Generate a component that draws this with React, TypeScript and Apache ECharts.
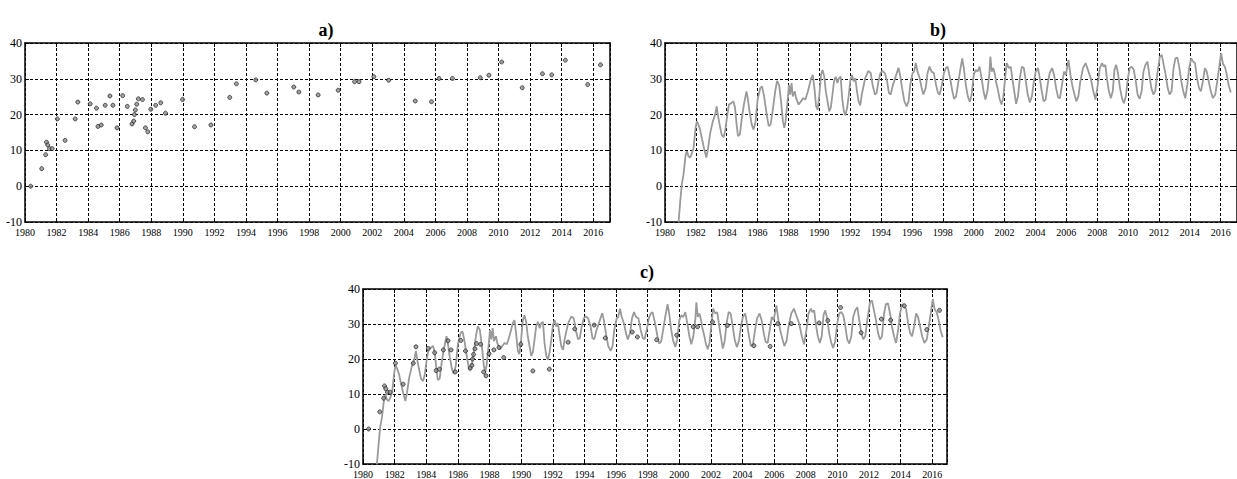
import React, { useEffect, useRef } from "react";
import * as echarts from "echarts";

// Observations (scatter), panels a) and c)
const obsYears = [
  1980.36, 1981.06, 1981.31, 1981.36, 1981.44, 1981.55, 1981.72, 1982.05, 1982.54, 1983.18,
  1983.35, 1984.13, 1984.53, 1984.62, 1984.83, 1985.08, 1985.38, 1985.57, 1985.83, 1986.19,
  1986.48, 1986.78, 1986.89, 1986.93, 1986.99, 1987.08, 1987.18, 1987.44, 1987.63, 1987.78,
  1987.97, 1988.28, 1988.6, 1988.9, 1989.98, 1990.74, 1991.78, 1992.97, 1993.39, 1994.62,
  1995.32, 1997.03, 1997.35, 1998.57, 1999.84, 2000.88, 2001.16, 2002.1, 2003.04, 2004.72,
  2005.75, 2006.23, 2007.08, 2008.84, 2009.39, 2010.2, 2011.5, 2012.78, 2013.37, 2014.23,
  2015.65, 2016.46,
];
const obsValues = [
  0.0, 4.9, 8.8, 12.3, 11.5, 10.5, 10.5, 18.8, 12.8, 18.8,
  23.5, 23.0, 21.8, 16.7, 17.1, 22.6, 25.2, 22.6, 16.3, 25.3,
  22.3, 17.4, 18.2, 20.0, 21.3, 22.9, 24.4, 24.2, 16.3, 15.2,
  21.5, 22.6, 23.3, 20.4, 24.2, 16.6, 17.1, 24.8, 28.6, 29.7,
  26.0, 27.7, 26.3, 25.5, 26.8, 29.2, 29.2, 30.6, 29.6, 23.8,
  23.6, 30.1, 30.1, 30.3, 31.0, 34.7, 27.5, 31.4, 31.1, 35.2,
  28.4, 33.9,
];

// Simulated series (line), panels b) and c)
const simYears = [
  1980.88, 1980.99, 1981.09, 1981.2, 1981.34, 1981.43, 1981.51, 1981.62, 1981.72, 1981.85,
  1981.98, 1982.06, 1982.15, 1982.27, 1982.4, 1982.57, 1982.68, 1982.78, 1982.93, 1983.1,
  1983.25, 1983.35, 1983.42, 1983.54, 1983.67, 1983.8, 1983.9, 1984.01, 1984.14, 1984.3,
  1984.43, 1984.54, 1984.64, 1984.73, 1984.85, 1984.98, 1985.11, 1985.28, 1985.36, 1985.49,
  1985.62, 1985.74, 1985.87, 1986.0, 1986.17, 1986.29, 1986.42, 1986.59, 1986.72, 1986.84,
  1986.97, 1987.14, 1987.26, 1987.39, 1987.52, 1987.64, 1987.73, 1987.81, 1987.94, 1988.03,
  1988.11, 1988.2, 1988.28, 1988.41, 1988.49, 1988.66, 1988.81, 1988.96, 1989.1, 1989.26,
  1989.47, 1989.58, 1989.68, 1989.79, 1989.89, 1990.0, 1990.11, 1990.21, 1990.32, 1990.42,
  1990.53, 1990.64, 1990.74, 1990.85, 1990.95, 1991.06, 1991.17, 1991.27, 1991.38, 1991.48,
  1991.59, 1991.69, 1991.8, 1991.91, 1992.01, 1992.12, 1992.22, 1992.33, 1992.44, 1992.54,
  1992.65, 1992.75, 1992.97, 1993.18, 1993.33, 1993.45, 1993.6, 1993.71, 1993.83, 1993.96,
  1994.09, 1994.24, 1994.39, 1994.51, 1994.62, 1994.77, 1994.98, 1995.13, 1995.23, 1995.36,
  1995.51, 1995.66, 1995.78, 1995.89, 1996.04, 1996.14, 1996.25, 1996.36, 1996.5, 1996.63,
  1996.74, 1996.89, 1997.01, 1997.14, 1997.27, 1997.42, 1997.56, 1997.69, 1997.8, 1997.94,
  1998.07, 1998.2, 1998.31, 1998.47, 1998.62, 1998.73, 1998.86, 1998.98, 1999.11, 1999.26,
  1999.36, 1999.49, 1999.62, 1999.75, 1999.87, 2000.0, 2000.13, 2000.25, 2000.38, 2000.51,
  2000.64, 2000.76, 2000.89, 2001.02, 2001.08, 2001.17, 2001.27, 2001.38, 2001.44, 2001.59,
  2001.69, 2001.8, 2001.91, 2002.04, 2002.14, 2002.28, 2002.4, 2002.53, 2002.66, 2002.75,
  2002.87, 2002.99, 2003.12, 2003.25, 2003.38, 2003.5, 2003.64, 2003.77, 2003.9, 2004.02,
  2004.17, 2004.28, 2004.41, 2004.53, 2004.66, 2004.79, 2004.92, 2005.08, 2005.21, 2005.34,
  2005.47, 2005.59, 2005.72, 2005.85, 2005.97, 2006.14, 2006.27, 2006.4, 2006.53, 2006.65,
  2006.78, 2006.91, 2007.08, 2007.25, 2007.4, 2007.58, 2007.75, 2007.89, 2008.04, 2008.17,
  2008.32, 2008.42, 2008.53, 2008.63, 2008.76, 2008.89, 2009.01, 2009.12, 2009.23, 2009.35,
  2009.48, 2009.61, 2009.73, 2009.86, 2009.99, 2010.11, 2010.24, 2010.37, 2010.49, 2010.62,
  2010.75, 2010.88, 2011.0, 2011.13, 2011.26, 2011.38, 2011.51, 2011.64, 2011.76, 2011.89,
  2012.06, 2012.19, 2012.31, 2012.44, 2012.57, 2012.69, 2012.82, 2012.95, 2013.07, 2013.2,
  2013.33, 2013.45, 2013.58, 2013.71, 2013.84, 2013.96, 2014.09, 2014.22, 2014.34, 2014.47,
  2014.6, 2014.72, 2014.85, 2014.98, 2015.1, 2015.23, 2015.36, 2015.5, 2015.65, 2015.78,
  2015.9, 2016.03, 2016.15, 2016.29, 2016.41, 2016.52, 2016.66,
];
const simValues = [
  -10, -4.1, 0.6, 3.3, 8.9, 9.8, 8.4, 8.0, 8.9, 10.7,
  16.3, 18.1, 17.4, 15.8, 13.1, 9.8, 8.0, 10.3, 14.9, 18.1,
  20.0, 22.3, 20.0, 17.2, 14.4, 13.7, 15.4, 19.1, 22.8, 23.2,
  23.7, 21.9, 17.2, 14.0, 14.4, 19.1, 22.8, 26.5, 24.6, 20.5,
  17.2, 15.8, 18.1, 24.2, 27.4, 27.9, 25.1, 20.0, 16.8, 17.2,
  20.9, 26.5, 29.4, 28.3, 23.7, 18.1, 16.3, 18.1, 23.7, 28.3,
  25.6, 28.8, 25.1, 26.5, 24.6, 22.8, 23.7, 24.6, 24.2, 26.5,
  30.2, 31.1, 27.4, 22.3, 21.4, 25.6, 31.1, 32.5, 30.6, 26.5,
  23.7, 20.9, 21.9, 25.6, 29.3, 30.6, 28.8, 30.2, 30.6, 24.6,
  20.9, 19.8, 21.9, 25.6, 29.7, 31.1, 29.3, 30.2, 26.5, 23.7,
  22.6, 25.6, 30.2, 32.2, 31.6, 28.3, 25.6, 26.0, 29.3, 31.6,
  32.2, 31.6, 29.3, 26.0, 25.6, 28.3, 31.1, 33.1, 31.1, 27.4,
  23.7, 22.3, 23.7, 28.3, 31.6, 32.0, 34.4, 32.0, 30.2, 27.4,
  25.6, 27.4, 31.6, 33.4, 32.0, 31.6, 28.3, 26.0, 25.6, 28.3,
  31.6, 33.0, 33.4, 30.2, 26.5, 24.4, 25.1, 28.3, 32.0, 35.7,
  33.0, 28.3, 25.1, 23.5, 25.6, 31.1, 32.5, 32.0, 33.4, 30.2,
  26.5, 24.2, 26.5, 31.6, 36.2, 32.0, 33.0, 31.1, 29.3, 26.5,
  24.2, 22.8, 24.6, 30.2, 34.4, 33.0, 33.4, 29.3, 25.6, 23.0,
  25.1, 30.2, 33.4, 33.0, 29.3, 25.6, 23.4, 25.1, 29.3, 32.0,
  33.0, 30.2, 26.5, 23.7, 24.2, 28.3, 31.6, 33.0, 31.1, 27.4,
  24.8, 24.6, 28.3, 32.0, 31.1, 35.3, 31.1, 27.9, 25.6, 23.7,
  25.1, 29.3, 33.0, 34.4, 32.5, 30.2, 26.5, 24.2, 28.3, 33.0,
  34.4, 33.4, 33.9, 30.2, 26.5, 24.6, 26.5, 32.5, 33.9, 31.6,
  27.4, 24.6, 23.2, 25.1, 30.2, 33.0, 33.4, 32.5, 29.7, 25.6,
  24.4, 26.5, 32.0, 33.9, 34.8, 31.1, 27.4, 25.6, 26.5, 31.1,
  36.2, 36.7, 33.9, 31.1, 27.4, 25.6, 26.5, 33.0, 35.7, 35.9,
  33.0, 29.3, 26.5, 24.6, 28.3, 33.0, 35.7, 34.8, 34.4, 30.2,
  27.4, 26.5, 29.3, 33.0, 32.0, 29.3, 26.5, 24.6, 25.6, 29.3,
  33.0, 37.1, 34.2, 33.2, 30.9, 28.2, 26.2,
];

const panelTitles = ["a)", "b)", "c)"];
const xMin = 1980;
const xMaxs = [2017.06, 2017.06, 2016.93];
const yMin = -10;
const yMax = 40;

const FONT = '"Liberation Serif", "Times New Roman", serif';

export default function App() {
  const ref = useRef<HTMLDivElement>(null);

  useEffect(() => {
    if (!ref.current) return;
    const chart = echarts.init(ref.current, undefined, { renderer: "svg" });

    const obs = obsYears.map((y, i) => [y, obsValues[i]]);
    const sim = simYears.map((y, i) => [y, simValues[i]]);

    const grids = [
      { left: 25, top: 43, width: 585, height: 179 },
      { left: 665, top: 43, width: 585, height: 179 },
      { left: 363, top: 289, width: 584, height: 180 },
    ];

    const xAxes: any[] = [];
    const yAxes: any[] = [];
    grids.forEach((_, g) => {
      xAxes.push({
        type: "value",
        gridIndex: g,
        min: xMin,
        max: xMaxs[g],
        interval: 2,
        position: "bottom",
        axisLine: { show: true, onZero: false, lineStyle: { color: "#000", width: 1.5 } },
        axisTick: { show: true, inside: true, length: 4, lineStyle: { color: "#000" } },
        axisLabel: {
          show: true,
          margin: 5,
          color: "#000",
          fontFamily: FONT,
          fontSize: 10,
          lineHeight: 10,
          showMaxLabel: false,
          formatter: (v: number) => (Math.abs(v - Math.round(v)) < 1e-6 && Math.round(v) % 2 === 0 ? String(Math.round(v)) : ""),
        },
        splitLine: { show: true, lineStyle: { color: "#000", type: [3, 2], width: 1 } },
      });
      yAxes.push({
        type: "value",
        gridIndex: g,
        min: yMin,
        max: yMax,
        interval: 10,
        position: "left",
        axisLine: { show: true, onZero: false, lineStyle: { color: "#000", width: 1.5 } },
        axisTick: { show: true, inside: true, length: 4, lineStyle: { color: "#000" } },
        axisLabel: { show: true, margin: 3, color: "#000", fontFamily: FONT, fontSize: 12, lineHeight: 10 },
        splitLine: { show: true, lineStyle: { color: "#000", type: [3, 2], width: 1 } },
      });
    });
    grids.forEach((_, g) => {
      xAxes.push({
        type: "value",
        gridIndex: g,
        min: xMin,
        max: xMaxs[g],
        interval: 2,
        position: "top",
        axisLine: { show: true, onZero: false, lineStyle: { color: "#000", width: 1.5 } },
        axisTick: { show: true, inside: true, length: 4, lineStyle: { color: "#000" } },
        axisLabel: { show: false },
        splitLine: { show: false },
      });
      yAxes.push({
        type: "value",
        gridIndex: g,
        min: yMin,
        max: yMax,
        interval: 10,
        position: "right",
        axisLine: { show: true, onZero: false, lineStyle: { color: "#000", width: 1.5 } },
        axisTick: { show: true, inside: true, length: 4, lineStyle: { color: "#000" } },
        axisLabel: { show: false },
        splitLine: { show: false },
      });
    });

    const lineStyle = { color: "#9a9a9a", width: 1.8 };
    const scatterStyle = { color: "#8a8a8a", borderColor: "#222", borderWidth: 0.9 };

    chart.setOption({
      animation: false,
      backgroundColor: "#fff",
      grid: grids,
      xAxis: xAxes,
      yAxis: yAxes,
      series: [
        {
          type: "scatter",
          xAxisIndex: 0,
          yAxisIndex: 0,
          data: obs,
          symbol: "circle",
          symbolSize: 4,
          itemStyle: scatterStyle,
          z: 3,
        },
        {
          type: "line",
          xAxisIndex: 1,
          yAxisIndex: 1,
          data: sim,
          showSymbol: false,
          lineStyle,
          itemStyle: { color: "#9a9a9a" },
          clip: true,
          z: 2,
        },
        {
          type: "line",
          xAxisIndex: 2,
          yAxisIndex: 2,
          data: sim,
          showSymbol: false,
          lineStyle,
          itemStyle: { color: "#9a9a9a" },
          clip: true,
          z: 2,
        },
        {
          type: "scatter",
          xAxisIndex: 2,
          yAxisIndex: 2,
          data: obs,
          symbol: "circle",
          symbolSize: 4,
          itemStyle: scatterStyle,
          z: 3,
        },
      ],
      graphic: [
        { type: "text", x: 326, y: 30, style: { text: panelTitles[0], font: `bold 18px ${FONT}`, fill: "#000", textAlign: "center", textVerticalAlign: "middle" } },
        { type: "text", x: 938, y: 30, style: { text: panelTitles[1], font: `bold 18px ${FONT}`, fill: "#000", textAlign: "center", textVerticalAlign: "middle" } },
        { type: "text", x: 647, y: 272, style: { text: panelTitles[2], font: `bold 18px ${FONT}`, fill: "#000", textAlign: "center", textVerticalAlign: "middle" } },
      ],
    });

    return () => chart.dispose();
  }, []);

  return (
    <div
      ref={ref}
      style={{ position: "absolute", left: 0, top: 0, width: 1237, height: 479, background: "#fff" }}
    />
  );
}
